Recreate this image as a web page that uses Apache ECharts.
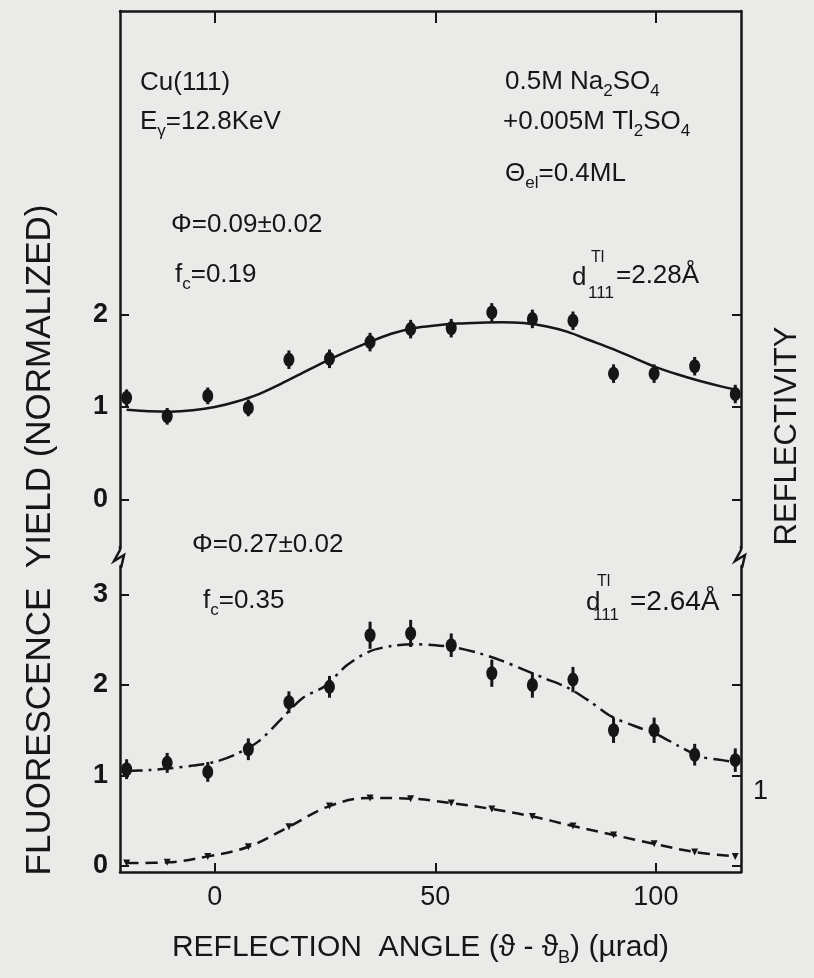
<!DOCTYPE html>
<html>
<head>
<meta charset="utf-8">
<script src="https://cdn.jsdelivr.net/npm/echarts@6/dist/echarts.min.js"></script>
<style>
  html, body { margin: 0; padding: 0; background: #eaeae8; }
  #chart { width: 814px; height: 978px; }
</style>
</head>
<body>
<div id="chart"></div>
<script>
// reflection angle (urad) of the measured points
var angles = [-20, -10.8, -1.6, 7.6, 16.8, 26, 35.2, 44.4, 53.6, 62.8, 72, 81.2, 90.4, 99.6, 108.8, 118];
var fitAngles = [-20, -15, -10, -5, 0, 5, 10, 15, 20, 25, 30, 35, 40, 45, 50, 55, 60, 65, 70, 75, 80, 85, 90, 95, 100, 105, 110, 115, 118];

// upper panel (d = 2.28 A): measured yield, error, fitted curve
var yieldUpper = [1.10, 0.90, 1.12, 0.99, 1.51, 1.52, 1.70, 1.84, 1.85, 2.02, 1.95, 1.93, 1.36, 1.36, 1.44, 1.14];
var errUpper = [0.09, 0.09, 0.09, 0.09, 0.10, 0.10, 0.10, 0.10, 0.10, 0.10, 0.10, 0.10, 0.10, 0.10, 0.10, 0.10];
var fitUpper = [0.97, 0.955, 0.95, 0.965, 1.00, 1.06, 1.14, 1.25, 1.37, 1.49, 1.60, 1.70, 1.79, 1.85, 1.88, 1.90,
  1.91, 1.915, 1.905, 1.87, 1.81, 1.72, 1.63, 1.53, 1.43, 1.35, 1.28, 1.22, 1.19];

// lower panel (d = 2.64 A)
var yieldLower = [1.07, 1.14, 1.04, 1.29, 1.81, 1.98, 2.55, 2.57, 2.44, 2.13, 2.00, 2.06, 1.50, 1.50, 1.23, 1.17];
var errLower = [0.11, 0.11, 0.11, 0.12, 0.12, 0.12, 0.15, 0.15, 0.13, 0.15, 0.14, 0.14, 0.14, 0.14, 0.12, 0.13];
var fitLower = [1.05, 1.06, 1.08, 1.11, 1.15, 1.24, 1.38, 1.62, 1.86, 1.99, 2.22, 2.37, 2.43, 2.45, 2.44, 2.41,
  2.35, 2.27, 2.17, 2.07, 1.97, 1.82, 1.65, 1.55, 1.46, 1.33, 1.21, 1.17, 1.15];

// reflectivity, right hand scale
var reflectivity = [0.04, 0.05, 0.13, 0.26, 0.53, 0.81, 0.92, 0.91, 0.85, 0.77, 0.67, 0.54, 0.42, 0.30, 0.19, 0.13];

var xTicks = [0, 50, 100];
var upperTicks = [0, 1, 2];
var lowerTicks = [0, 1, 2, 3];
var reflTicks = [1];

var ink = '#161616';
var font = '"Liberation Sans", Arial, sans-serif';

function pairs(xs, ys) {
  return xs.map(function (a, i) { return [a, ys[i]]; });
}

function errorBars(xi, yi, ys, errs) {
  return {
    type: 'custom',
    xAxisIndex: xi,
    yAxisIndex: yi,
    encode: { x: 0, y: [1, 2] },
    data: angles.map(function (a, i) { return [a, ys[i] - errs[i], ys[i] + errs[i]]; }),
    renderItem: function (params, api) {
      var lo = api.coord([api.value(0), api.value(1)]);
      var hi = api.coord([api.value(0), api.value(2)]);
      return {
        type: 'line',
        shape: { x1: lo[0], y1: lo[1], x2: hi[0], y2: hi[1] },
        style: { stroke: ink, lineWidth: 3 }
      };
    },
    z: 4
  };
}

function xAxisFor(grid, pos, labels) {
  return {
    type: 'value', gridIndex: grid, position: pos,
    min: -21.5, max: 119.3,
    axisLine: { show: true, onZero: false, lineStyle: { color: ink, width: 2.5 } },
    axisTick: { show: true, inside: true, length: pos === 'top' ? 12 : 9, customValues: xTicks, lineStyle: { color: ink, width: 2 } },
    axisLabel: { show: labels, customValues: xTicks, color: ink, fontSize: 27, fontFamily: font, margin: 12 },
    splitLine: { show: false }
  };
}

function yAxisFor(grid, pos, min, max, ticks, labels) {
  return {
    type: 'value', gridIndex: grid, position: pos,
    min: min, max: max,
    axisLine: { show: true, onZero: false, lineStyle: { color: ink, width: 2.5 } },
    axisTick: { show: true, inside: true, length: 9, customValues: ticks, lineStyle: { color: ink, width: 2 } },
    axisLabel: { show: labels, customValues: ticks, color: ink, fontSize: 27, fontWeight: 'bold', fontFamily: font, margin: 12 },
    splitLine: { show: false }
  };
}

// text helper: rich token s = subscript
function txt(x, y, s, size) {
  return {
    type: 'text', x: x, y: y, z: 10,
    style: {
      text: s, fill: ink, font: (size || 26) + 'px ' + font,
      align: 'left', verticalAlign: 'middle', textAlign: 'left', textVerticalAlign: 'middle',
      lineHeight: 36,
      rich: {
        s: { fontSize: 17, fontFamily: font, fill: ink, lineHeight: 17, verticalAlign: 'bottom' }
      }
    }
  };
}

// axis break marks
function zig(x) {
  return {
    type: 'polyline', z: 10,
    shape: { points: [[x, 546], [x, 550], [x - 6, 561], [x + 4, 555], [x + 1, 568]] },
    style: { stroke: ink, lineWidth: 2.5, fill: null }
  };
}

var chart = echarts.init(document.getElementById('chart'));
chart.setOption({
  animation: false,
  backgroundColor: '#eaeae8',
  grid: [
    { left: 120, top: 11, width: 621, height: 537, outerBoundsMode: 'none' },
    { left: 120, top: 566, width: 621, height: 306, outerBoundsMode: 'none' }
  ],
  xAxis: [
    xAxisFor(0, 'top', false),
    Object.assign(xAxisFor(1, 'bottom', true), {
      name: 'REFLECTION  ANGLE (\u03d1 - \u03d1{s|B}) (\u00b5rad)',
      nameLocation: 'middle', nameGap: 57,
      nameTextStyle: {
        color: ink, fontSize: 30, fontFamily: font, lineHeight: 38, padding: [0, 20, 0, 0],
        rich: { s: { fontSize: 18, fontFamily: font, color: ink, lineHeight: 18, verticalAlign: 'bottom' } }
      }
    })
  ],
  yAxis: [
    yAxisFor(0, 'left', -0.52, 5.27, upperTicks, true),
    yAxisFor(0, 'right', -0.52, 5.27, upperTicks, false),
    yAxisFor(1, 'left', -0.066, 3.315, lowerTicks, true),
    yAxisFor(1, 'right', -0.066, 3.315, lowerTicks, false),
    {
      type: 'value', gridIndex: 1, position: 'right',
      min: -0.081, max: 4.054,
      axisLine: { show: false }, axisTick: { show: false },
      axisLabel: { show: true, customValues: reflTicks, color: ink, fontSize: 27, fontFamily: font, margin: 12 },
      splitLine: { show: false }
    }
  ],
  graphic: [
    zig(120), zig(741),
    txt(140, 83, 'Cu(111)'),
    txt(140, 122, 'E{s|\u03b3}=12.8KeV'),
    txt(505, 82, '0.5M Na{s|2}SO{s|4}'),
    txt(503, 122, '+0.005M Tl{s|2}SO{s|4}'),
    txt(505, 174, '\u0398{s|el}=0.4ML'),
    txt(171, 225, '\u03a6=0.09\u00b10.02'),
    txt(175, 275, 'f{s|c}=0.19'),
    txt(572, 278, 'd'),
    txt(591, 258, 'Tl', 16),
    txt(588, 293, '111', 17),
    txt(616, 276, '=2.28\u00c5'),
    txt(192, 545, '\u03a6=0.27\u00b10.02'),
    txt(203, 601, 'f{s|c}=0.35'),
    txt(586, 603, 'd'),
    txt(597, 582, 'Tl', 16),
    txt(593, 615, '111', 17),
    txt(630, 602, '=2.64\u00c5', 28),
    {
      type: 'text', x: 40, y: 540, rotation: Math.PI / 2, z: 10,
      style: {
        text: 'FLUORESCENCE  YIELD (NORMALIZED)', fill: ink, font: '35px ' + font,
        align: 'center', verticalAlign: 'middle', textAlign: 'center', textVerticalAlign: 'middle'
      }
    },
    {
      type: 'text', x: 787, y: 436, rotation: Math.PI / 2, z: 10,
      style: {
        text: 'REFLECTIVITY', fill: ink, font: '31px ' + font,
        align: 'center', verticalAlign: 'middle', textAlign: 'center', textVerticalAlign: 'middle'
      }
    }
  ],
  series: [
    {
      type: 'line', xAxisIndex: 0, yAxisIndex: 0, data: pairs(fitAngles, fitUpper),
      smooth: 0.3, showSymbol: false, lineStyle: { color: ink, width: 2.5 }, z: 2
    },
    errorBars(0, 0, yieldUpper, errUpper),
    {
      type: 'scatter', xAxisIndex: 0, yAxisIndex: 0, data: pairs(angles, yieldUpper),
      symbol: 'circle', symbolSize: [11, 14], itemStyle: { color: ink, opacity: 1 }, z: 5
    },
    {
      type: 'line', xAxisIndex: 1, yAxisIndex: 2, data: pairs(fitAngles, fitLower),
      smooth: 0.3, showSymbol: false, lineStyle: { color: ink, width: 2.5, type: [16, 6, 3, 6] }, z: 2
    },
    errorBars(1, 2, yieldLower, errLower),
    {
      type: 'scatter', xAxisIndex: 1, yAxisIndex: 2, data: pairs(angles, yieldLower),
      symbol: 'circle', symbolSize: [11, 14], itemStyle: { color: ink, opacity: 1 }, z: 5
    },
    {
      type: 'line', xAxisIndex: 1, yAxisIndex: 4, data: pairs(angles, reflectivity),
      smooth: 0.4, symbol: 'triangle', symbolRotate: 180, symbolSize: 7,
      itemStyle: { color: ink, opacity: 1 }, lineStyle: { color: ink, width: 2.5, type: [12, 7] }, z: 3
    }
  ]
});
</script>
</body>
</html>
